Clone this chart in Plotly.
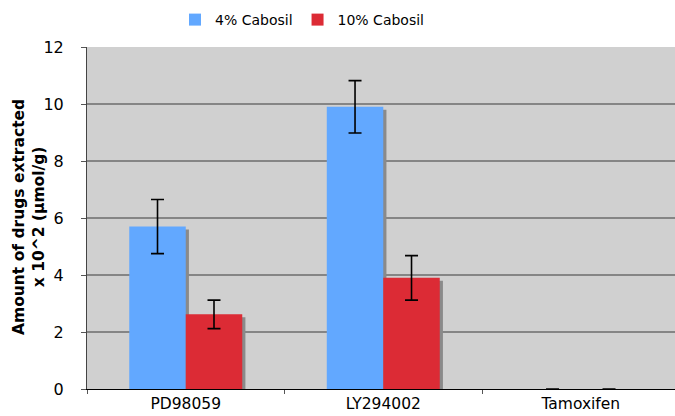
import plotly.graph_objects as go

categories = ["PD98059", "LY294002", "Tamoxifen"]
cabosil_4 = [5.7, 9.9, 0.0]
cabosil_4_err = [0.95, 0.92, 0.0]
cabosil_10 = [2.62, 3.9, 0.0]
cabosil_10_err = [0.5, 0.78, 0.0]
series_names = ["4% Cabosil", "10% Cabosil"]
y_ticks = [0, 2, 4, 6, 8, 10, 12]
y_title = "<b>Amount of drugs extracted<br>x 10^2 (µmol/g)</b>"

BLUE = "#62a8ff"
RED = "#dc2b35"
BW = 0.286
SH_DX = 0.016

fig = go.Figure()

# shadows
for vals, off in [(cabosil_4, -BW), (cabosil_10, 0.0)]:
    fig.add_trace(go.Bar(
        x=categories, y=[max(v - 0.1, 0) for v in vals],
        width=BW, offset=off + SH_DX,
        marker=dict(color="#8a8a8a", line=dict(width=0)),
        showlegend=False, hoverinfo="skip"))

for name, vals, errs, off, col in [
    (series_names[0], cabosil_4, cabosil_4_err, -BW, BLUE),
    (series_names[1], cabosil_10, cabosil_10_err, 0.0, RED),
]:
    fig.add_trace(go.Bar(
        x=categories, y=vals, name=name, width=BW, offset=off,
        marker=dict(color=col, line=dict(width=0)),
        error_y=dict(type="data", array=errs, visible=True,
                     color="black", thickness=1.6, width=6.5),
    ))

fig.update_layout(
    width=675, height=416,
    barmode="overlay",
    paper_bgcolor="white",
    plot_bgcolor="#d0d0d0",
    margin=dict(l=87, r=0, t=47, b=27),
    font=dict(family="DejaVu Sans", color="black", size=14),
    legend=dict(orientation="h", x=(302 - 87) / 588, xanchor="center",
                y=1.0 + 27 / 342, yanchor="middle",
                font=dict(size=14), itemwidth=30,
                traceorder="normal", bgcolor="rgba(0,0,0,0)"),
    showlegend=True,
)

fig.add_annotation(
    text=y_title, xref="paper", yref="paper",
    x=(29 - 87) / 588, y=(389 - 217) / 342,
    xanchor="center", yanchor="middle", textangle=-90,
    showarrow=False, font=dict(size=15.5), align="center",
)

fig.update_xaxes(
    type="category", range=[-0.5, 2.477],
    tickson="boundaries", ticks="outside", ticklen=4, tickcolor="#555",
    showline=True, linecolor="black", linewidth=1.2,
    showgrid=False, tickfont=dict(size=15.5),
)
fig.update_yaxes(
    range=[0, 12], tickvals=y_ticks, ticks="outside", ticklen=5,
    tickcolor="#555", showline=True, linecolor="#444", linewidth=1,
    showgrid=True, gridcolor="#858585", gridwidth=1.5,
    tickfont=dict(size=16), zeroline=False, ticklabelstandoff=14,
)

fig.write_html("out.html", config={"displayModeBar": False},
               post_script="document.body.style.margin='0';")
